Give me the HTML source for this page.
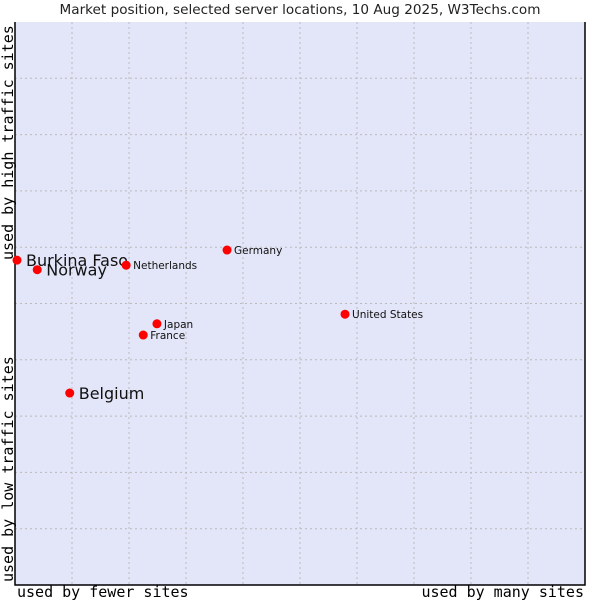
<!DOCTYPE html>
<html><head><meta charset="utf-8"><style>
body{margin:0;background:#fff}
svg{display:block}
</style></head><body>
<svg id="chart" width="600" height="600" xmlns="http://www.w3.org/2000/svg">
<text x="300" y="14" text-anchor="middle" font-family="DejaVu Sans, sans-serif" font-size="13.6" fill="#222">Market position, selected server locations, 10 Aug 2025, W3Techs.com</text>
<rect x="15" y="22" width="570" height="563" fill="#e3e5f8"/>
<g id="grid"></g>
<path d="M15,22 V585 H585 V22" fill="none" stroke="#000" stroke-width="1.5"/>
<text x="17" y="597" font-family="DejaVu Sans Mono, monospace" font-size="15" fill="#000">used by fewer sites</text>
<text x="584" y="597" text-anchor="end" font-family="DejaVu Sans Mono, monospace" font-size="15" fill="#000">used by many sites</text>
<text transform="translate(13,260) rotate(-90)" font-family="DejaVu Sans Mono, monospace" font-size="15" fill="#000">used by high traffic sites</text>
<text transform="translate(13,582) rotate(-90)" font-family="DejaVu Sans Mono, monospace" font-size="15" fill="#000">used by low traffic sites</text>
<g id="points"></g>
</svg>
<script>
const countries = ["Burkina Faso","Norway","Netherlands","Germany","United States","Japan","France","Belgium"];
const xValues = [0.35,3.9,19.5,37.2,57.9,24.9,22.5,9.6];
const yValues = [57.7,56.0,56.8,59.5,48.1,46.4,44.4,34.1];
const highlighted = [true,true,false,false,false,false,false,true];
const gridSteps = [1,2,3,4,5,6,7,8,9];

const NS="http://www.w3.org/2000/svg";
const xs=v=>15+v*5.7, ys=v=>585-v*5.63;
const grid=document.getElementById('grid');
gridSteps.forEach(s=>{
  const v=document.createElementNS(NS,'line');
  v.setAttribute('x1',xs(s*10));v.setAttribute('x2',xs(s*10));v.setAttribute('y1',22);v.setAttribute('y2',585);
  v.setAttribute('stroke','#bbb');v.setAttribute('stroke-dasharray','2,3');
  
  
  grid.appendChild(v);
  const h=document.createElementNS(NS,'line');
  h.setAttribute('y1',ys(s*10));h.setAttribute('y2',ys(s*10));h.setAttribute('x1',15);h.setAttribute('x2',585);
  h.setAttribute('stroke','#bbb');h.setAttribute('stroke-dasharray','2,3');
  
  
  grid.appendChild(h);
});
const pts=document.getElementById('points');
countries.forEach((c,i)=>{
  const x=xs(xValues[i]), y=ys(yValues[i]);
  const d=document.createElementNS(NS,'circle');
  d.setAttribute('cx',x);d.setAttribute('cy',y);d.setAttribute('r',4.5);d.setAttribute('fill','#f00');
  
  
  pts.appendChild(d);
  const t=document.createElementNS(NS,'text');
  const big=highlighted[i];
  t.setAttribute('x',x+(big?9:7));t.setAttribute('y',y+(big?6:4));
  t.setAttribute('font-family','DejaVu Sans, sans-serif');
  t.setAttribute('font-size',big?16:10.5);t.setAttribute('fill','#111');
  t.textContent=c;
  
  
  pts.appendChild(t);
});
</script>
</body></html>
